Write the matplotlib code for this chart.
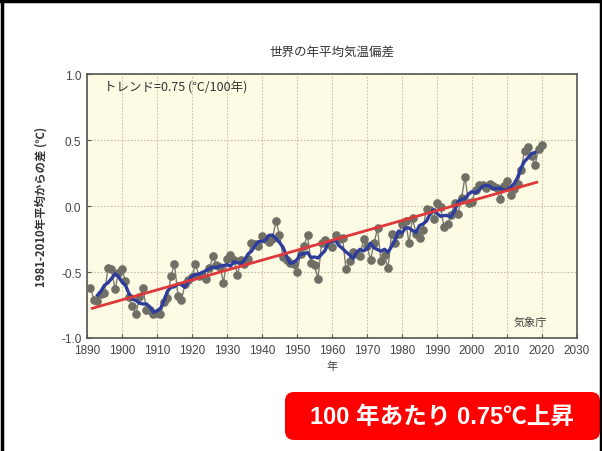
import matplotlib
matplotlib.use("Agg")
import matplotlib.pyplot as plt
from matplotlib.patches import FancyBboxPatch
from matplotlib.lines import Line2D
import numpy as np
import pandas as pd

plt.rcParams['font.family'] = ['Noto Sans CJK JP', 'DejaVu Sans']

years = list(range(1891, 2021))
anomaly = [
    -0.62, -0.71, -0.72, -0.67, -0.66, -0.47, -0.48, -0.63, -0.51,  # 1891-1899
    -0.48, -0.57, -0.69, -0.76, -0.82, -0.69, -0.62, -0.79, -0.79, -0.82,  # 1900-1909
    -0.81, -0.82, -0.73, -0.70, -0.53, -0.44, -0.68, -0.71, -0.59, -0.56,  # 1910-1919
    -0.54, -0.44, -0.53, -0.52, -0.55, -0.47, -0.38, -0.45, -0.46, -0.58,  # 1920-1929
    -0.40, -0.37, -0.41, -0.52, -0.41, -0.44, -0.40, -0.28, -0.29, -0.30,  # 1930-1939
    -0.23, -0.25, -0.27, -0.25, -0.11, -0.22, -0.39, -0.41, -0.43, -0.44,  # 1940-1949
    -0.50, -0.36, -0.30, -0.22, -0.43, -0.45, -0.55, -0.28, -0.26, -0.29,  # 1950-1959
    -0.31, -0.22, -0.25, -0.24, -0.48, -0.42, -0.35, -0.36, -0.38, -0.25,  # 1960-1969
    -0.30, -0.41, -0.28, -0.17, -0.42, -0.37, -0.47, -0.21, -0.28, -0.21,  # 1970-1979
    -0.14, -0.11, -0.28, -0.09, -0.21, -0.24, -0.18, -0.02, -0.03, -0.10,  # 1980-1989
    0.02, -0.01, -0.16, -0.14, -0.07, 0.02, -0.06, 0.06, 0.22, 0.02,  # 1990-1999
    0.03, 0.12, 0.16, 0.16, 0.14, 0.17, 0.15, 0.14, 0.05, 0.15,  # 2000-2009
    0.19, 0.08, 0.13, 0.17, 0.27, 0.42, 0.45, 0.38, 0.31, 0.43,  # 2010-2019
    0.46,  # 2020
]
trend_years = [1891.5, 2018.5]
trend_values = [-0.775, 0.18]

x_ticks = list(range(1890, 2031, 10))
y_ticks = [-1.0, -0.5, 0.0, 0.5, 1.0]

series = pd.Series(anomaly, index=years)
running = series.rolling(5, center=True).mean()

fig = plt.figure(figsize=(6.02, 4.52), dpi=100)
fig.patch.set_facecolor('white')
ax = fig.add_axes([0.1445, 0.25, 0.814, 0.584])
ax.set_facecolor('#fefbe4')

ax.plot(years, anomaly, color='#7a7a72', lw=1.0, marker='o', markersize=5.2,
        markerfacecolor='#6f6f66', markeredgecolor='#6f6f66', zorder=3)
ax.plot(running.index, running.values, color='#2e3c9c', lw=2.4, zorder=4)
ax.plot(trend_years, trend_values, color='#e0383a', lw=2.0, zorder=5)

ax.set_xlim(1890, 2030)
ax.set_ylim(-1.0, 1.0)
ax.set_xticks(x_ticks)
ax.set_yticks(y_ticks)
ax.set_yticklabels([f"{v:.1f}" for v in y_ticks])
ax.tick_params(direction='in', length=3, labelsize=8.5, colors='#555555',
               labelcolor='#444444', pad=4)
for lab in ax.get_xticklabels() + ax.get_yticklabels():
    lab.set_family(['Liberation Sans', 'DejaVu Sans'])
ax.grid(True, color='#c8bfa8', linestyle=(0, (1.5, 1.5)), linewidth=0.8)
for s in ax.spines.values():
    s.set_color('#555550')
    s.set_linewidth(1.2)

ax.set_title('世界の年平均気温偏差', fontsize=9, color='#333333', pad=14)
ax.set_xlabel('年', fontsize=8, color='#444444', labelpad=4)
ax.set_ylabel('1981-2010年平均からの差 (℃)', fontsize=8.2, color='#333333',
              fontweight='bold', labelpad=10)

ax.text(0.035, 0.95, 'トレンド=0.75 (℃/100年)', transform=ax.transAxes,
        fontsize=9, color='#333333', ha='left', va='center')
ax.text(0.905, 0.06, '気象庁', transform=ax.transAxes, fontsize=8,
        color='#444444', ha='center', va='center')

# outer frame
W, H = 602, 452
for xs, ys in [([1.5 / W, 1.5 / W], [0, 1]), ([0, 1], [1 - 1.5 / H, 1 - 1.5 / H]),
               ([1 - 1.5 / W, 1 - 1.5 / W], [0, 1])]:
    fig.add_artist(Line2D(xs, ys, color='black', lw=2.5, transform=fig.transFigure))

box = FancyBboxPatch((285 / W, 1 - 441 / H), (600 - 285) / W, (441 - 393) / H,
                     boxstyle='round,pad=0,rounding_size=0.015',
                     transform=fig.transFigure, facecolor='#ff0000',
                     edgecolor='none', mutation_aspect=W / H)
fig.add_artist(box)
fig.text(442 / W, 1 - 417 / H, '100 年あたり 0.75℃上昇', color='white',
         fontsize=17, fontweight='bold', ha='center', va='center',
         family=['Liberation Sans', 'Noto Sans CJK JP'])

fig.savefig('out.png', dpi=100)
